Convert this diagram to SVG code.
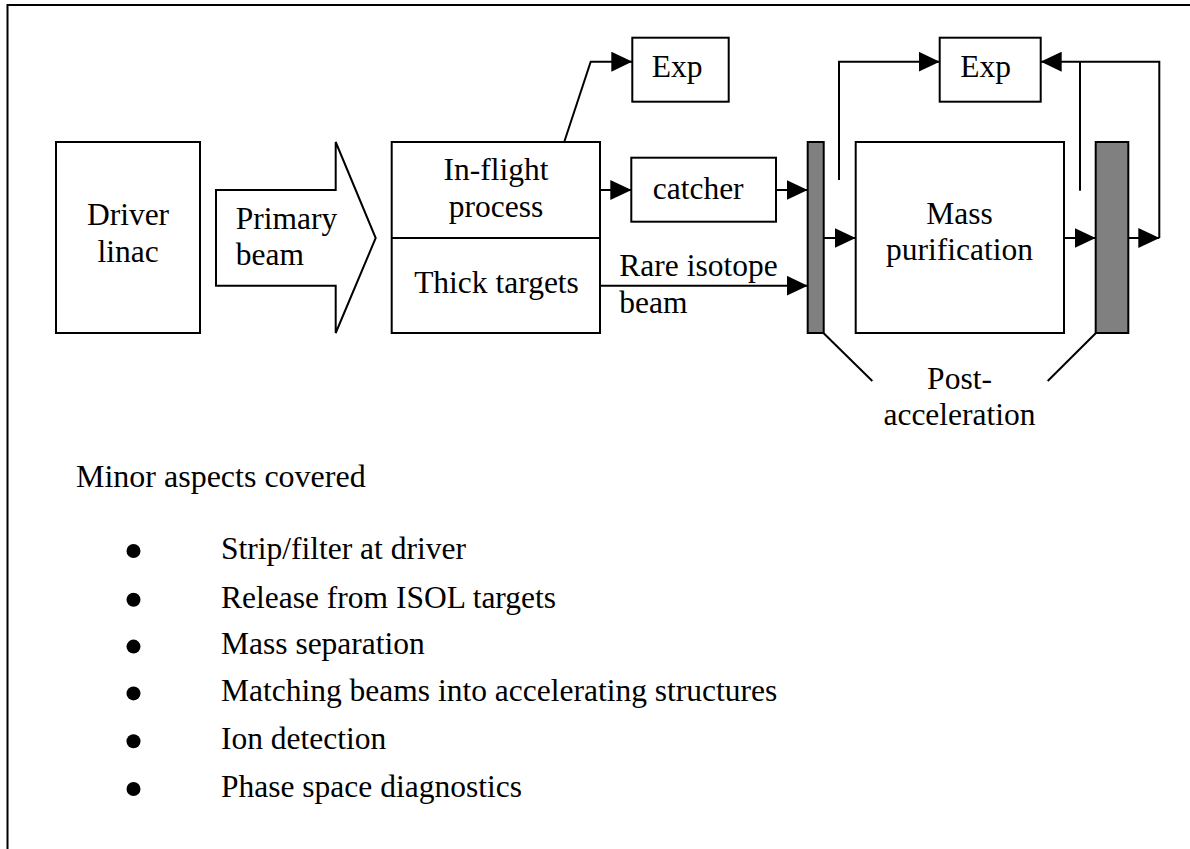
<svg xmlns="http://www.w3.org/2000/svg" width="1190" height="849" viewBox="0 0 1190 849">
<style>
text{font-family:"Liberation Serif","Times New Roman",serif;font-size:31.5px;fill:#000}
.box{fill:#fff;stroke:#000;stroke-width:2}
.bar{fill:#808080;stroke:#000;stroke-width:2}
.ln{fill:none;stroke:#000;stroke-width:2}
.c{text-anchor:middle}
</style>
<defs>
<marker id="ah" markerUnits="userSpaceOnUse" markerWidth="21" markerHeight="20" refX="21" refY="10" orient="auto">
<path d="M0,0 L21,10 L0,20 Z" fill="#000"/>
</marker>
</defs>
<rect width="1190" height="849" fill="#fff"/>
<g id="frame"><path class="ln" d="M7.5,849 V5 H1190"/></g>
<g id="driver"><rect class="box" x="56" y="142" width="144" height="191"/><text class="c" x="128" y="225">Driver</text><text class="c" x="128" y="262">linac</text></g>
<g id="primary"><path class="box" d="M216,190 H335.7 V142 L375.7,238 L335.7,333 V285.7 H216 Z"/><text x="235.7" y="229">Primary</text><text x="235.7" y="265">beam</text></g>
<g id="target"><rect class="box" x="391.7" y="142" width="208.3" height="191"/><line class="ln" x1="391.7" y1="238" x2="600" y2="238"/><text class="c" x="496" y="180">In-flight</text><text class="c" x="496" y="217">process</text><text class="c" x="496.5" y="292.7">Thick targets</text></g>
<g id="exp1"><rect class="box" x="632.3" y="37.7" width="96.4" height="64"/><text x="651.7" y="76.7">Exp</text></g>
<g id="catcher"><rect class="box" x="631.3" y="157.7" width="144.7" height="64"/><text x="652.7" y="199">catcher</text></g>
<g id="bar1"><rect class="bar" x="807.7" y="142" width="16" height="191"/></g>
<g id="mass"><rect class="box" x="855.7" y="142" width="208.3" height="191"/><text class="c" x="959.5" y="224">Mass</text><text class="c" x="959.5" y="260">purification</text></g>
<g id="bar2"><rect class="bar" x="1095.7" y="142" width="32.6" height="191"/></g>
<g id="exp2"><rect class="box" x="939.7" y="37.7" width="101" height="64"/><text x="960.3" y="76.7">Exp</text></g>
<g id="postacc"><text class="c" x="959.5" y="389">Post-</text><text class="c" x="959.5" y="425">acceleration</text></g>
<g id="connectors">
<path class="ln" marker-end="url(#ah)" d="M564.3,141.7 L590.7,61.7 H632.3"/>
<path class="ln" marker-end="url(#ah)" d="M600,190 H631.3"/>
<path class="ln" marker-end="url(#ah)" d="M776,190 H807.7"/>
<path class="ln" marker-end="url(#ah)" d="M600,285.7 H807.7"/>
<path class="ln" marker-end="url(#ah)" d="M823.7,238 H855.7"/>
<path class="ln" marker-end="url(#ah)" d="M839,180 V61.7 H939.7"/>
<path class="ln" marker-end="url(#ah)" d="M1064,238 H1095.7"/>
<path class="ln" marker-end="url(#ah)" d="M1128.3,238 H1159.3"/>
<path class="ln" marker-end="url(#ah)" d="M1159.3,238 V61.7 H1040.7"/>
<path class="ln" d="M1080,190.7 V61.7"/>
<path class="ln" d="M823.7,333.3 L872.3,381"/>
<path class="ln" d="M1095.7,333.3 L1047.7,381"/>
</g>
<g id="rare"><text x="619.3" y="276">Rare isotope</text><text x="619.3" y="313.3">beam</text></g>
<g id="minor">
<text x="76" y="486.7" style="font-size:32px">Minor aspects covered</text>
<g fill="#000">
<circle cx="133.5" cy="551" r="7"/><circle cx="133.5" cy="599.8" r="7"/><circle cx="133.5" cy="646.6" r="7"/><circle cx="133.5" cy="693.4" r="7"/><circle cx="133.5" cy="741.2" r="7"/><circle cx="133.5" cy="789" r="7"/>
</g>
<g style="font-size:32px">
<text x="221" y="558.5">Strip/filter at driver</text>
<text x="221" y="607.5">Release from ISOL targets</text>
<text x="221" y="654.3">Mass separation</text>
<text x="221" y="701.3">Matching beams into accelerating structures</text>
<text x="221" y="749">Ion detection</text>
<text x="221" y="797">Phase space diagnostics</text>
</g>
</g>
</svg>
